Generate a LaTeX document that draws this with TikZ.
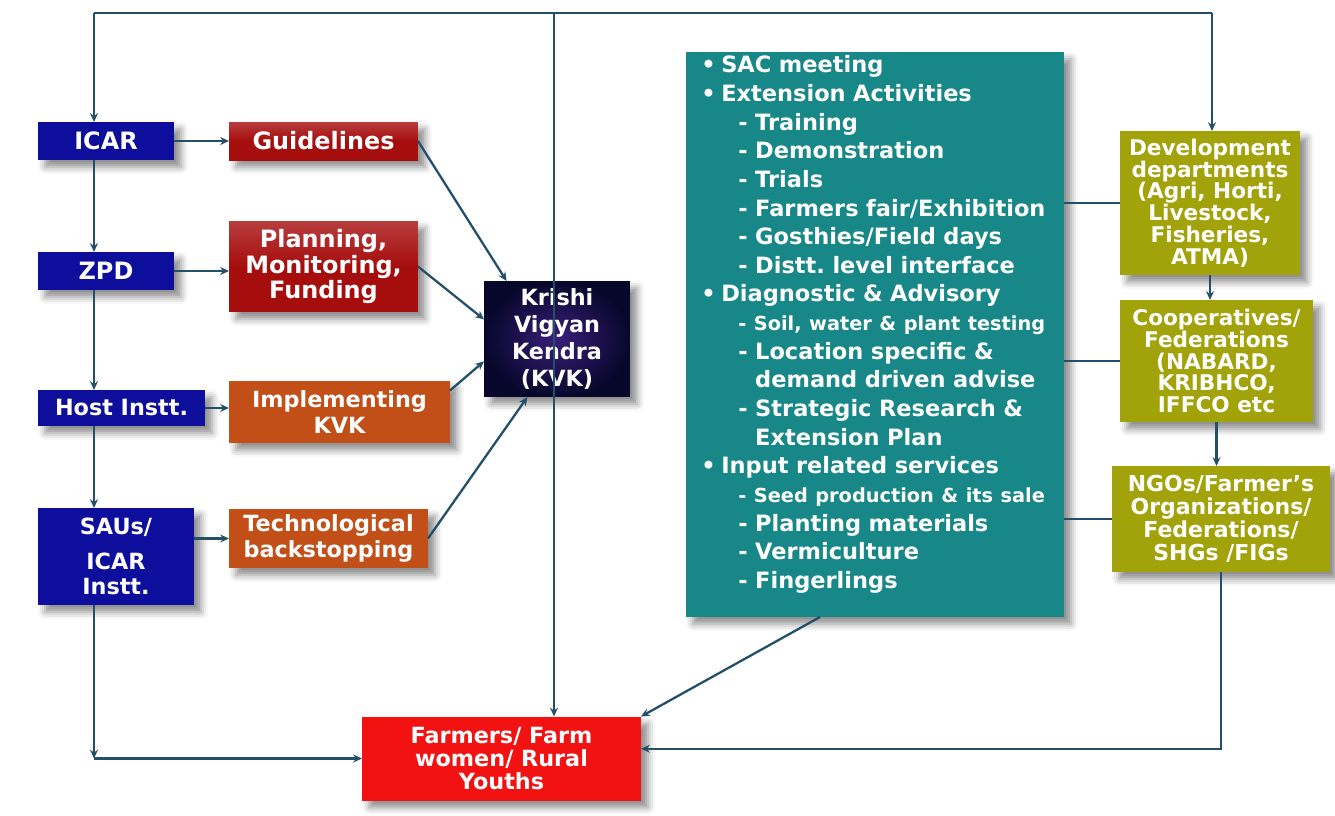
\documentclass[tikz,border=0pt]{standalone}
\usepackage{fontspec}
\setmainfont{DejaVu Sans}
\usetikzlibrary{arrows.meta,shadows.blur}

\definecolor{icarblue}{HTML}{0E0E9C}
\definecolor{guidered}{HTML}{A60D0D}
\definecolor{rust}{HTML}{C24E18}
\definecolor{kvkdark}{HTML}{07072C}
\definecolor{kvkglow}{HTML}{3A1E7A}
\definecolor{tealbox}{HTML}{178787}
\definecolor{olive}{HTML}{A2A20A}
\definecolor{farmred}{HTML}{F21212}
\definecolor{linkcol}{HTML}{235068}

\tikzset{
    box/.style={rectangle, inner sep=0pt, outer sep=0pt, text=white, align=center,
        font=\fontsize{12.7}{14.5}\selectfont\bfseries,
        blur shadow={shadow xshift=4pt, shadow yshift=-4pt, shadow blur radius=4pt, shadow opacity=45}},
    bigtext/.style={font=\fontsize{13.6}{14.4}\selectfont\bfseries},
    bluebox/.style={box, fill=icarblue},
    redbox/.style={box, bigtext, top color=guidered!80!white, bottom color=guidered, middle color=guidered},
    rustbox/.style={box, fill=rust},
    olivebox/.style={box, fill=olive, font=\fontsize{12.3}{12.4}\selectfont\bfseries},
    link/.style={draw=linkcol, line width=1.3pt},
    arr/.style={link, -{Stealth[length=5pt,width=4.5pt]}}
}

\begin{document}
\begin{tikzpicture}[x=0.02cm, y=-0.02cm]
            \useasboundingbox (0,0) rectangle (1335,815);

            \coordinate (tl) at (94,13);
            \coordinate (tm) at (554,13);
            \coordinate (tr) at (1212,13);
            \coordinate (bl) at (94,758.5);

            \node[bluebox, bigtext, minimum width=2.72cm, minimum height=0.76cm] (icar) at (106,141) {ICAR};
            \node[bluebox, bigtext, minimum width=2.72cm, minimum height=0.76cm] (zpd) at (106,271) {ZPD};
            \node[bluebox, minimum width=3.34cm, minimum height=0.72cm] (host) at (121.5,408) {Host Instt.};
            \node[bluebox, minimum width=3.12cm, minimum height=1.94cm] (sau) at (116,556.5) {SAUs/\\[5pt]ICAR\\Instt.};

            \node[redbox, minimum width=3.78cm, minimum height=0.76cm] (guide) at (323.5,141) {Guidelines};
            \node[redbox, minimum width=3.78cm, minimum height=1.82cm] (plan) at (323.5,266.5) {Planning,\\Monitoring,\\Funding};
            \node[rustbox, minimum width=4.42cm, minimum height=1.24cm] (impl) at (339.5,412) {Implementing\\KVK};
            \node[rustbox, minimum width=3.98cm, minimum height=1.18cm] (tech) at (328.5,538.5) {Technological\\backstopping};

            \node[box, inner color=kvkglow, outer color=kvkdark, minimum width=2.92cm, minimum height=2.32cm,
                font=\fontsize{12.7}{15.2}\selectfont\bfseries] (kvk) at (557,339) {Krishi\\Vigyan\\Kendra\\(KVK)};

            \node[box, fill=tealbox, minimum width=7.56cm, minimum height=11.3cm, text width=7.04cm,
                align=left, inner xsep=0.26cm, font=\fontsize{12.8}{16.3}\selectfont\bfseries\frenchspacing] (acts) at (875,334.5) {%
                \hspace*{0.1em}\textbullet\hspace{0.25em}SAC meeting\\
                \hspace*{0.1em}\textbullet\hspace{0.25em}Extension Activities\\
                \hspace*{1.75em}- Training\\
                \hspace*{1.75em}- Demonstration\\
                \hspace*{1.75em}- Trials\\
                \hspace*{1.75em}- Farmers fair/Exhibition\\
                \hspace*{1.75em}- Gosthies/Field days\\
                \hspace*{1.75em}- Distt. level interface\\
                \hspace*{0.1em}\textbullet\hspace{0.25em}Diagnostic \& Advisory\\
                \hspace*{1.75em}{\fontsize{11}{16.3}\selectfont - Soil, water \& plant testing}\\
                \hspace*{1.75em}- Location specific \&\\
                \hspace*{1.75em}\phantom{- }demand driven advise\\
                \hspace*{1.75em}- Strategic Research \&\\
                \hspace*{1.75em}\phantom{- }Extension Plan\\
                \hspace*{0.1em}\textbullet\hspace{0.25em}Input related services\\
                \hspace*{1.75em}{\fontsize{11}{16.3}\selectfont - Seed production \& its sale}\\
                \hspace*{1.75em}- Planting materials\\
                \hspace*{1.75em}- Vermiculture\\
                \hspace*{1.75em}- Fingerlings\par\vspace*{0.4cm}};

            \node[olivebox, minimum width=3.6cm, minimum height=2.88cm] (dev) at (1210,203) {Development\\departments\\(Agri, Horti,\\Livestock,\\Fisheries,\\ATMA)};
            \node[olivebox, minimum width=3.86cm, minimum height=2.44cm] (coop) at (1216.5,361) {Cooperatives/\\Federations\\(NABARD,\\KRIBHCO,\\IFFCO etc};
            \node[olivebox, minimum width=4.36cm, minimum height=2.12cm, font=\fontsize{12.5}{13}\selectfont\bfseries] (ngo) at (1221,519) {NGOs/Farmer’s\\Organizations/\\Federations/\\SHGs /FIGs};

            \node[box, fill=farmred, minimum width=5.58cm, minimum height=1.68cm, font=\fontsize{12.7}{13.2}\selectfont\bfseries] (farm) at (501.5,758.5) {Farmers/ Farm\\women/ Rural\\Youths};

            \draw[link] (tl) -- (tr);
            \draw[arr] (tl) -- (icar.north -| tl);
            \draw[arr] (tr) -- (dev.north -| tr);
            \draw[arr] (tm) -- (farm.north -| tm);

            \draw[arr] (icar.south -| tl) -- (zpd.north -| tl);
            \draw[arr] (zpd.south -| tl) -- (host.north -| tl);
            \draw[arr] (host.south -| tl) -- (sau.north -| tl);
            \draw[arr] (sau.south -| tl) -- (bl);
            \draw[arr] (bl) -- (farm.west);

            \draw[arr] (icar) -- (guide);
            \draw[arr] (zpd) -- (zpd -| plan.west);
            \draw[arr] (host) -- (impl.west |- host);
            \draw[arr] (sau.east |- tech) -- (tech);

            \draw[arr] (guide.east) -- (kvk.131);
            \draw[arr] (plan.east) -- (kvk.165);
            \draw[arr] (impl.11) -- (kvk.197);
            \draw[arr] (tech.east) -- (kvk.243);

            \draw[link] (acts.east |- dev.west) -- (dev.west);
            \draw[link] (acts.east |- coop.west) -- (coop.west);
            \draw[link] (acts.east |- ngo.west) -- (ngo.west);
            \draw[arr] (dev.south) -- (dev.south |- coop.north);
            \draw[arr] (coop.south) -- (coop.south |- ngo.north);
            \draw[arr] (ngo.south) |- (farm.4);
            \draw[arr] (acts.259) -- (farm.north east);
\end{tikzpicture}
\end{document}
